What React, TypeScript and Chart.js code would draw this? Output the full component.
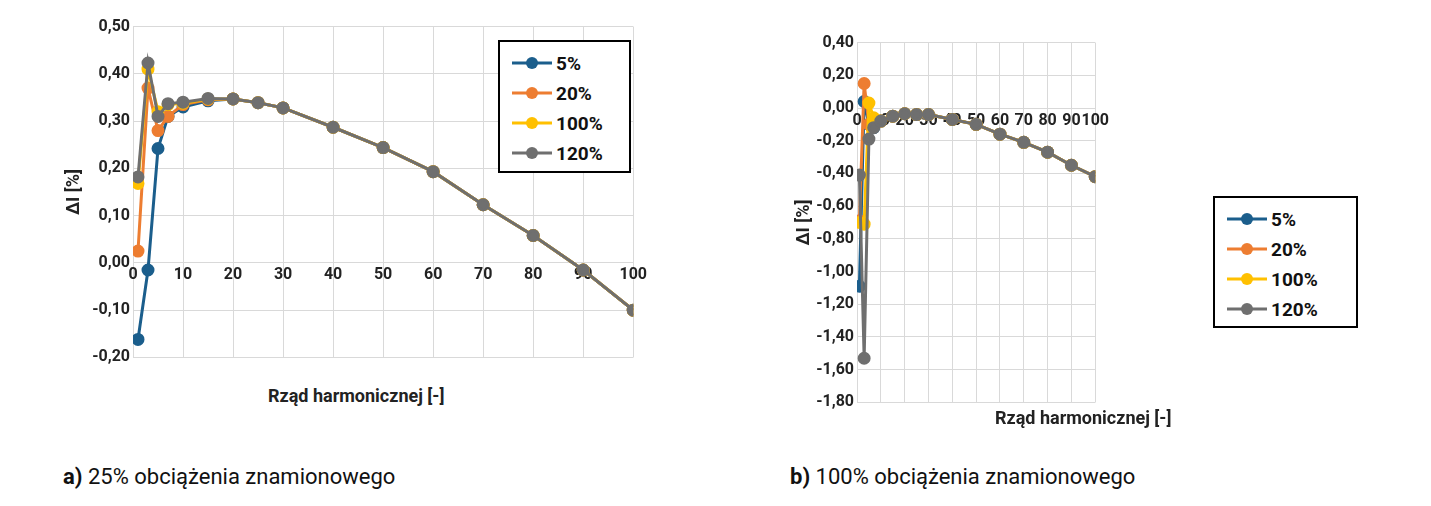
import React, { useEffect, useRef } from "react";
import Chart from "chart.js/auto";

const harmonics = [1, 3, 5, 7, 10, 15, 20, 25, 30, 40, 50, 60, 70, 80, 90, 100];
const seriesNames = ["5%", "20%", "100%", "120%"];
const seriesColors = ["#1b5e8c", "#ed7d31", "#ffc000", "#6f6f6f"];
const tail = [0.347, 0.339, 0.328, 0.287, 0.244, 0.193, 0.123, 0.058, -0.015, -0.1];
const leftA = [-0.162, -0.015, 0.242, 0.31, 0.33, 0.343, ...tail];
const leftB = [0.025, 0.37, 0.28, 0.31, 0.335, 0.345, ...tail];
const leftC = [0.168, 0.41, 0.32, 0.335, 0.338, 0.347, ...tail];
const leftD = [0.182, 0.423, 0.31, 0.337, 0.34, 0.348, ...tail];
const tailR = [-0.035, -0.04, -0.04, -0.07, -0.1, -0.16, -0.21, -0.27, -0.35, -0.42];
const rightA = [-1.09, 0.04, -0.1, -0.12, -0.08, -0.05, ...tailR];
const rightB = [-0.69, 0.15, -0.1, -0.1, -0.08, -0.05, ...tailR];
const rightC = [-0.7, -0.71, 0.03, -0.06, -0.08, -0.05, ...tailR];
const rightD = [-0.41, -1.53, -0.19, -0.12, -0.08, -0.05, ...tailR];

const FONT = "Roboto";
const NARROW = "'Liberation Sans Narrow', 'Roboto', sans-serif";

function makeChart(canvas: HTMLCanvasElement, series: number[][], min: number, max: number, step: number, yw: number, pad: any) {
  return new Chart(canvas, {
    type: "line",
    data: {
      datasets: series.map((s, i) => ({
        label: seriesNames[i],
        data: s.map((v, j) => ({ x: harmonics[j], y: v })),
        borderColor: seriesColors[i],
        backgroundColor: seriesColors[i],
        borderWidth: 3,
        pointRadius: 5,
        pointHoverRadius: 5,
        tension: 0,
        order: 3 - i,
      })),
    },
    options: {
      animation: false,
      responsive: false,
      layout: { padding: pad },
      plugins: { legend: { display: false }, tooltip: { enabled: false } },
      scales: {
        x: {
          type: "linear",
          min: 0,
          max: 100,
          position: { y: 0 } as any,
          ticks: { stepSize: 10, maxRotation: 0, minRotation: 0, autoSkip: false, color: "#222", font: { family: FONT, size: 16, weight: "bold" } },
          grid: { color: "#d9d9d9", drawTicks: false },
          border: { display: false },
        },
        y: {
          min,
          max,
          ticks: {
            stepSize: step,
            color: "#222",
            font: { family: FONT, size: 16, weight: "bold" },
            callback: (v: any) => { const n = Math.abs(Number(v)) < 1e-9 ? 0 : Number(v); return n.toFixed(2).replace(".", ","); },
          },
          grid: { color: "#d9d9d9", drawTicks: false },
          border: { display: false },
          title: { display: true, text: "ΔI [%]", color: "#222", font: { family: FONT, size: 18, weight: "bold" } },
          afterFit: (s: any) => { s.width = yw; },
        },
      },
    },
  });
}

function Legend({ left, top, w, h }: { left: number; top: number; w: number; h: number }) {
  return (
    <div style={{ position: "absolute", left, top, width: w, height: h, border: "2px solid #000", background: "#fff", boxSizing: "border-box", padding: "6px 0 0 12px" }}>
      {seriesNames.map((n, i) => (
        <div key={n} style={{ display: "flex", alignItems: "center", height: 30, fontFamily: FONT, fontWeight: "bold", fontSize: 19, color: "#111" }}>
          <svg width="40" height="14" style={{ marginRight: 4 }}>
            <line x1="0" y1="7" x2="40" y2="7" stroke={seriesColors[i]} strokeWidth="3" />
            <circle cx="20" cy="7" r="6" fill={seriesColors[i]} />
          </svg>
          {n}
        </div>
      ))}
    </div>
  );
}

export default function App() {
  const c1 = useRef<HTMLCanvasElement>(null);
  const c2 = useRef<HTMLCanvasElement>(null);
  useEffect(() => {
    const a = makeChart(c1.current!, [leftA, leftB, leftC, leftD], -0.2, 0.5, 0.1, 73, { top: 8, right: 9, bottom: 10 });
    const b = makeChart(c2.current!, [rightA, rightB, rightC, rightD], -1.8, 0.4, 0.2, 67, { top: 10, right: 12, bottom: 10 });
    return () => { a.destroy(); b.destroy(); };
  }, []);
  return (
    <div style={{ position: "relative", width: 1431, height: 506, margin: -8, background: "#fff" }}>
      <canvas ref={c1} width={590} height={356} style={{ position: "absolute", left: 60, top: 14 }} />
      <canvas ref={c2} width={322} height={385} style={{ position: "absolute", left: 790, top: 30 }} />
      <Legend left={498} top={40} w={133} h={133} />
      <Legend left={1213} top={196} w={145} h={132} />
      <div style={{ position: "absolute", left: 268, top: 385, fontFamily: FONT, fontWeight: "bold", fontSize: 18, color: "#222" }}>Rząd harmonicznej [-]</div>
      <div style={{ position: "absolute", left: 995, top: 407, fontFamily: FONT, fontWeight: "bold", fontSize: 18, color: "#222" }}>Rząd harmonicznej [-]</div>
      <div style={{ position: "absolute", left: 63, top: 464, fontFamily: NARROW, fontSize: 22, color: "#111" }}><b>a)</b> 25% obciążenia znamionowego</div>
      <div style={{ position: "absolute", left: 790, top: 464, fontFamily: NARROW, fontSize: 22, color: "#111" }}><b>b)</b> 100% obciążenia znamionowego</div>
    </div>
  );
}
